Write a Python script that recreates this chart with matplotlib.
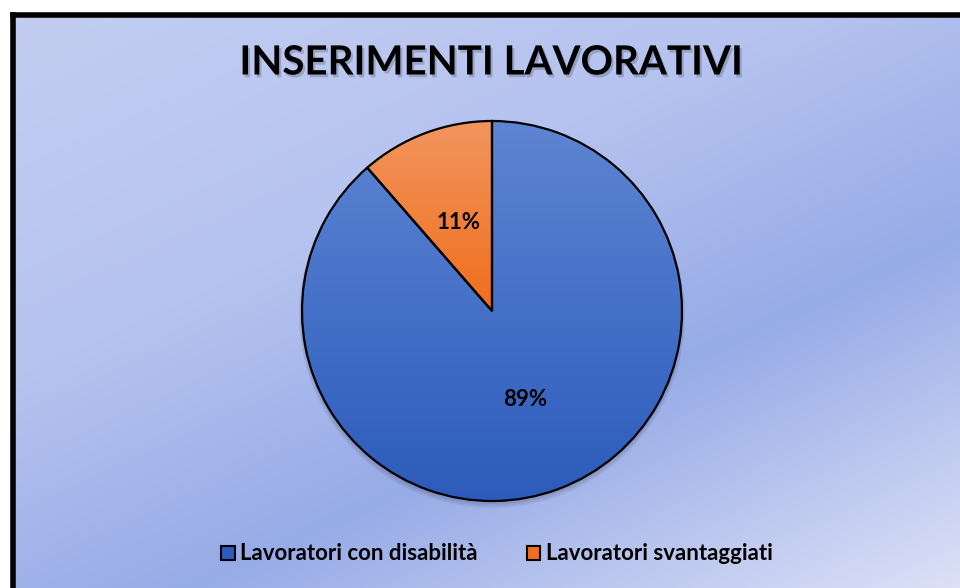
import numpy as np
import matplotlib
matplotlib.use("Agg")
from matplotlib import pyplot as plt
from matplotlib import patheffects as pe
from matplotlib.colors import LinearSegmentedColormap, to_rgb
from matplotlib.patches import Patch, Circle

# dati
categorie = ["Lavoratori con disabilità", "Lavoratori svantaggiati"]
valori = [88.6, 11.4]
titolo = "INSERIMENTI LAVORATIVI"

colori_alto = ["#5D85D3", "#F2955E"]
colori_basso = ["#2C5BBB", "#F06E1C"]

W, H = 960, 588
fig = plt.figure(figsize=(W / 100, H / 100), dpi=100, facecolor="white")
ax = fig.add_axes([0, 0, 1, 1])

# sfondo sfumato
bx0, by_top = 13, 15
xx, yy = np.meshgrid(np.arange(bx0, W), np.arange(by_top, H))
p = 0.415 * xx + 0.910 * yy
stops = [0, 350, 614, 933]
cols = np.array([to_rgb(c) for c in ["#C3CEF1", "#B6C3EF", "#97ABE7", "#DDE1F7"]])
img = np.stack([np.interp(p, stops, cols[:, k]) for k in range(3)], axis=-1)
ax.imshow(img, extent=(bx0, W, 0, H - by_top), origin="upper", zorder=0, aspect="auto")

centro = (492, H - 311)
raggio = 190

# ombra
for i, a in enumerate([0.06, 0.06, 0.06]):
    ax.add_patch(Circle((centro[0], centro[1] - 2 - i), raggio + 1 + i,
                        facecolor="black", alpha=a, edgecolor="none", zorder=1))

wedges, testi, autotesti = ax.pie(
    valori, startangle=90, counterclock=False, center=centro, radius=raggio,
    autopct="%.0f%%", pctdistance=0.5,
    wedgeprops=dict(edgecolor="black", linewidth=1.6),
    textprops=dict(fontsize=16, fontweight="bold", family="Lato", color="black"))

for w, ca, cb in zip(wedges, colori_alto, colori_basso):
    ext = w.get_path().get_extents()
    cmap = LinearSegmentedColormap.from_list("g", [cb, ca])
    grad = np.linspace(0, 1, 256).reshape(-1, 1)
    im = ax.imshow(grad, cmap=cmap, origin="lower", aspect="auto",
                   extent=(ext.x0, ext.x1, ext.y0, ext.y1), zorder=2)
    im.set_clip_path(w)
    w.set_facecolor("none")
    w.set_zorder(3)
for t in autotesti:
    t.set_zorder(4)

ax.set_xlim(0, W)
ax.set_ylim(0, H)
ax.axis("off")

# bordo
ax.plot([bx0, bx0], [0, H - by_top], color="black", lw=4, solid_capstyle="projecting", zorder=5)
ax.plot([bx0, W], [H - by_top, H - by_top], color="black", lw=4, solid_capstyle="projecting", zorder=5)

ax.text(491, H - 63, titolo, ha="center", va="center", fontsize=29, fontweight="bold",
        family="Lato", color="black", zorder=5,
        path_effects=[pe.withSimplePatchShadow(offset=(1.5, -2), alpha=0.18)])

maniglie = [Patch(facecolor=c, edgecolor="black", linewidth=1.5) for c in colori_basso]
fig.legend(maniglie, categorie, loc="center", bbox_to_anchor=(497 / W, 34 / H), ncol=2,
           frameon=False, handlelength=0.6, handleheight=0.6, handletextpad=0.25,
           columnspacing=2.2, prop=dict(family="Lato", weight="bold", size=16))

fig.savefig("out.png", dpi=100, facecolor="white")
